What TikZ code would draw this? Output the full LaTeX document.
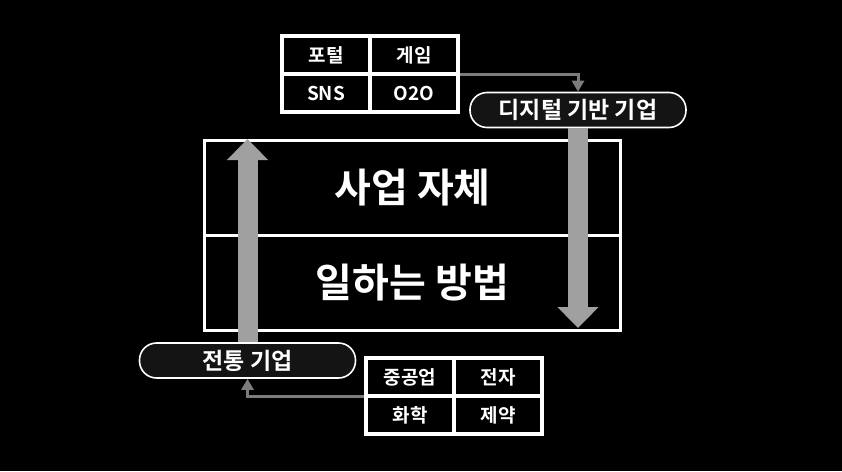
\documentclass[tikz,border=0pt]{standalone}
\usepackage{fontspec}
\setmainfont{Noto Sans CJK KR}[BoldFont={Noto Sans CJK KR Bold}]
\usetikzlibrary{positioning}
\usetikzlibrary{arrows.meta}
\definecolor{pillfill}{HTML}{141414}
\definecolor{arrowgray}{HTML}{A0A0A0}
\definecolor{linegray}{HTML}{7C7C7C}
\tikzset{
    cellnode/.style = {rectangle, line width=4pt, draw=white, fill=black, outer sep=0pt, inner sep=0pt, minimum width=88pt, minimum height=38pt, font=\bfseries\fontsize{19}{19}\selectfont, text=white},
    pillnode/.style = {rectangle, rounded corners=17pt, line width=1.6pt, draw=white, fill=pillfill, inner sep=0pt, minimum width=216pt, minimum height=35pt, font=\bfseries\fontsize{23}{23}\selectfont, text=white},
    boxnode/.style = {rectangle, line width=3pt, draw=white, fill=black, outer sep=0pt, minimum width=416pt, minimum height=95pt, font=\bfseries\fontsize{40}{40}\selectfont, text=white},
    edgeg/.style = {-{Triangle[width=12pt,length=11pt]}, line width=3pt, linegray, shorten <=2pt}, % table to pill
    edgebig/.style = {-{Triangle[width=40pt,length=21pt]}, line width=20pt, arrowgray}, % big arrows
}

\begin{document}
\begin{tikzpicture}[x=1pt, y=-1pt]
  \path[fill=black] (0,0) rectangle (842,471);

  % main box
  \node[boxnode] (top) at (412.5,188) {사업 자체};
  \node[boxnode, below=0pt of top] (bot) {일하는 방법};

  % pills
  \node[pillnode] (digital) at (578,110) {디지털 기반 기업};
  \node[pillnode] (trad) at (247.5,360.5) {전통 기업};

  % tables
  \node[cellnode] (t11) at (326,55) {포털};
  \node[cellnode, right=0pt of t11] (t12) {게임};
  \node[cellnode, below=0pt of t11] (t21) {SNS};
  \node[cellnode, right=0pt of t21] (t22) {O2O};

  \node[cellnode] (b11) at (410,377) {중공업};
  \node[cellnode, right=0pt of b11] (b12) {전자};
  \node[cellnode, below=0pt of b11] (b21) {화학};
  \node[cellnode, right=0pt of b21] (b22) {제약};

  \coordinate (uptip) at (247.5,139);
  \coordinate (downtip) at (578,328);

  \draw[edgebig] (trad.north) -- (uptip);
  \draw[edgebig] (digital.south) -- (downtip);
  \draw[edgeg] (t12.south east) -| (digital.north);
  \draw[edgeg] (b11.south west) -| (trad.south);
\end{tikzpicture}
\end{document}
